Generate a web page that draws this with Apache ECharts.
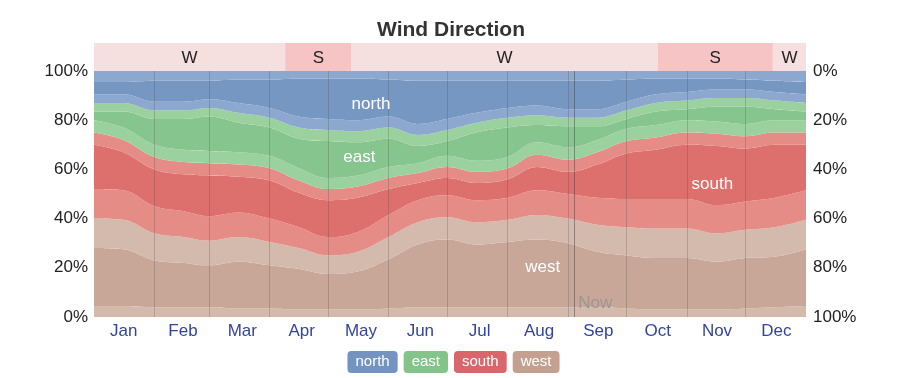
<!DOCTYPE html>
<html>
<head>
<meta charset="utf-8">
<title>Wind Direction</title>
<script src="https://cdn.jsdelivr.net/npm/echarts@6/dist/echarts.min.js"></script>
<style>
  html, body { margin: 0; padding: 0; background: #fff; }
  #chart { width: 902px; height: 378px; }
</style>
</head>
<body>
<div id="chart"></div>
<script>
// day of year for each sample
var days = [0, 15, 31, 46, 59, 74, 90, 105, 120, 135, 151, 166, 181, 196, 212, 227, 243, 258, 273, 288, 304, 319, 334, 349, 365];

// percent of hours per direction (cores) and intermediate directions (tinted)
var nw = [9, 9, 8, 8, 8, 7, 7, 6, 6, 6, 7, 8, 8, 8, 8, 8, 8, 8, 7, 6, 6, 6, 7, 8, 9];
var west = [23.5, 23, 19, 18, 17, 19, 17.5, 16.5, 14.5, 15.5, 20, 25.5, 27.5, 25.5, 26.5, 27.5, 26, 22.5, 21.5, 21, 21, 19.5, 20.5, 20.5, 23];
var sw = [24, 24, 22, 21, 20, 20, 19, 17, 15, 16, 18, 18, 18, 18, 18, 20, 20, 22, 23, 24, 24, 23, 23, 24, 24];
var south = [18, 15.5, 15, 15, 16.5, 14.5, 15.5, 14, 15, 14, 10.5, 7, 7, 7, 7.5, 9.5, 9, 13.5, 18.5, 20, 22, 24, 21.5, 21.5, 18.5];
var se = [10, 10, 10, 10, 10, 10, 10, 10, 9, 9, 9, 8, 9, 9, 9, 10, 10, 10, 10, 10, 10, 10, 10, 10, 10];
var east = [3.5, 6.5, 10.5, 12.5, 14, 12, 11.5, 12, 15, 13.5, 11.5, 7, 6, 11.5, 12, 7, 8.5, 5.5, 4, 5.5, 4.5, 6, 7, 4.5, 3.5];
var ne = [7, 7, 7, 7, 7, 8, 8, 9, 9, 9, 9, 9, 9, 8, 8, 8, 7, 7, 7, 7, 7, 7, 7, 7, 7];
var north = [5, 5, 8.5, 8.5, 7.5, 9.5, 11.5, 15.5, 16.5, 17, 15, 17.5, 15.5, 13, 11, 10, 11.5, 11.5, 9, 6.5, 5.5, 4.5, 4, 4.5, 5];

var months = ['Jan', 'Feb', 'Mar', 'Apr', 'May', 'Jun', 'Jul', 'Aug', 'Sep', 'Oct', 'Nov', 'Dec'];
var monthStarts = [31, 59, 90, 120, 151, 181, 212, 243, 273, 304, 334];
var nowDay = 246;

// dominant direction strip
var domStart = [0, 98, 132, 289, 348];
var domEnd = [98, 132, 289, 348, 365];
var domName = ['W', 'S', 'W', 'S', 'W'];

var font = 'Arial, "Liberation Sans", sans-serif';
var colors = {
  west: ['#d4b9ad', '#c8a698', '#c4a090'],
  south: ['#e68c87', '#dd706c', '#d9666a'],
  east: ['#9bd09f', '#86c58e', '#84c48a'],
  north: ['#8ca8cf', '#7797c3', '#7394c0']
};

var DAY = 86400000;
var YEAR0 = Date.UTC(2021, 0, 1);
function t(d) { return YEAR0 + d * DAY; }

function pairs(arr, half) {
  return arr.map(function (v, i) { return [t(days[i]), half ? v / 2 : v]; });
}

// bottom to top: light, core, light per direction
var bands = [
  ['west', 0, pairs(nw, true)],
  ['west', 1, pairs(west)],
  ['west', 0, pairs(sw, true)],
  ['south', 0, pairs(sw, true)],
  ['south', 1, pairs(south)],
  ['south', 0, pairs(se, true)],
  ['east', 0, pairs(se, true)],
  ['east', 1, pairs(east)],
  ['east', 0, pairs(ne, true)],
  ['north', 0, pairs(ne, true)],
  ['north', 1, pairs(north)],
  ['north', 0, pairs(nw, true)]
];

var series = bands.map(function (b) {
  return {
    name: b[0],
    type: 'line',
    stack: 'dir',
    smooth: 0.4,
    showSymbol: false,
    lineStyle: { width: 0 },
    areaStyle: { color: colors[b[0]][b[1]], opacity: 1 },
    itemStyle: { color: colors[b[0]][2] },
    data: b[2]
  };
});

var lines = monthStarts.map(function (d) {
  return { xAxis: t(d), lineStyle: { color: 'rgba(60,60,60,0.22)' } };
});
lines.push({ xAxis: t(nowDay), lineStyle: { color: 'rgba(60,60,60,0.45)' } });
series[series.length - 1].markLine = {
  silent: true,
  symbol: 'none',
  animation: false,
  label: { show: false },
  lineStyle: { type: 'solid', width: 1 },
  data: lines
};

series.push({
  type: 'custom',
  xAxisIndex: 2,
  yAxisIndex: 2,
  silent: true,
  data: domStart.map(function (s, i) { return [s, domEnd[i]]; }),
  renderItem: function (params, api) {
    var p0 = api.coord([api.value(0), 1]);
    var p1 = api.coord([api.value(1), 0]);
    var name = domName[params.dataIndex];
    return {
      type: 'group',
      children: [
        { type: 'rect', shape: { x: p0[0], y: p0[1], width: p1[0] - p0[0], height: p1[1] - p0[1] },
          style: { fill: name === 'S' ? '#f6c4c4' : '#f5dfdf' } },
        { type: 'text', style: { text: name, x: (p0[0] + p1[0]) / 2, y: (p0[1] + p1[1]) / 2 + 1,
          align: 'center', verticalAlign: 'middle', fill: '#222', font: '17px ' + font } }
      ]
    };
  }
});

function chip(name) {
  return {
    name: name,
    icon: 'none',
    textStyle: {
      color: '#fff', fontSize: 15, fontFamily: font, lineHeight: 16,
      backgroundColor: colors[name][2], borderRadius: 4, padding: [3, 8, 3, 8]
    }
  };
}

var chart = echarts.init(document.getElementById('chart'));
chart.setOption({
  animation: false,
  title: {
    text: 'Wind Direction',
    left: 'center',
    top: 15,
    textStyle: { fontSize: 21, fontWeight: 'bold', color: '#333', fontFamily: font }
  },
  legend: {
    bottom: 0,
    left: 'center',
    itemWidth: 0,
    itemGap: 1,
    selectedMode: false,
    data: ['north', 'east', 'south', 'west'].map(chip)
  },
  grid: [
    { left: 94, right: 96, top: 71, bottom: 61 },
    { left: 94, right: 96, top: 43, height: 28 }
  ],
  xAxis: [
    { type: 'time', gridIndex: 0, min: t(0), max: t(365), show: false },
    { type: 'category', gridIndex: 0, data: months, boundaryGap: true, position: 'bottom',
      axisLine: { show: false }, axisTick: { show: false }, splitLine: { show: false },
      axisLabel: { color: '#33449c', fontSize: 17, fontFamily: font, margin: 6 } },
    { type: 'value', gridIndex: 1, min: 0, max: 365, show: false }
  ],
  yAxis: [
    { type: 'value', gridIndex: 0, min: 0, max: 100, interval: 20, position: 'left',
      axisLine: { show: false }, axisTick: { show: false }, splitLine: { show: false },
      axisLabel: { formatter: '{value}%', color: '#222', fontSize: 17, fontFamily: font, margin: 6 } },
    { type: 'value', gridIndex: 0, min: 0, max: 100, interval: 20, inverse: true, position: 'right',
      axisLine: { show: false }, axisTick: { show: false }, splitLine: { show: false },
      axisLabel: { formatter: '{value}%', color: '#222', fontSize: 17, fontFamily: font, margin: 7 } },
    { type: 'value', gridIndex: 1, min: 0, max: 1, show: false }
  ],
  series: series
});

// text labels placed through the chart's own scales
var labels = [
  ['north', 142, 86.5, '#fff'],
  ['east', 136, 65, '#fff'],
  ['south', 317, 54, '#fff'],
  ['west', 230, 20, '#fff'],
  ['Now', 257, 5.5, '#a09590']
];
chart.setOption({
  graphic: labels.map(function (l) {
    var p = chart.convertToPixel({ seriesIndex: 0 }, [t(l[1]), l[2]]);
    return {
      type: 'text', x: p[0], y: p[1], z: 100, silent: true,
      style: { text: l[0], fill: l[3], font: '17px ' + font, align: 'center', verticalAlign: 'middle' }
    };
  })
});
</script>
</body>
</html>
